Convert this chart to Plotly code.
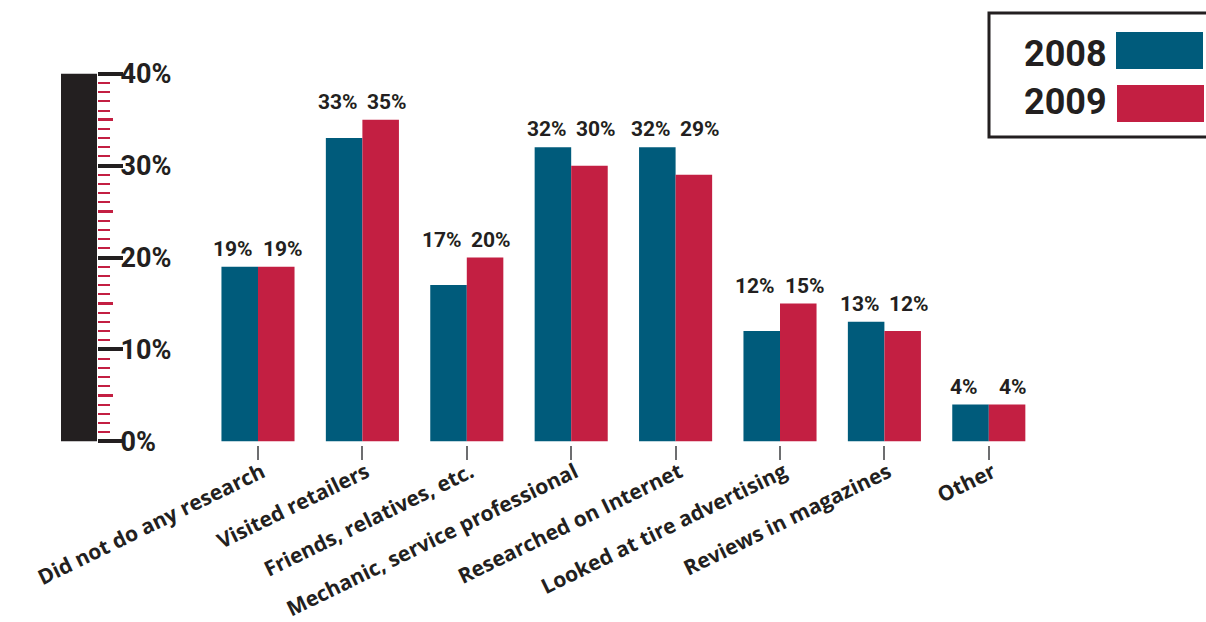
import plotly.graph_objects as go

# Survey data: where buyers researched tires before purchase
categories = [
    "Did not do any research",
    "Visited retailers",
    "Friends, relatives, etc.",
    "Mechanic, service professional",
    "Researched on Internet",
    "Looked at tire advertising",
    "Reviews in magazines",
    "Other",
]
years = ["2008", "2009"]
values_2008 = [19, 33, 17, 32, 32, 12, 13, 4]
values_2009 = [19, 35, 20, 30, 29, 15, 12, 4]
y_ticks = [0, 10, 20, 30, 40]
y_tick_labels = ["0%", "10%", "20%", "30%", "40%"]
half_ticks = [5, 15, 25, 35]

BLUE = "#005b7b"
RED = "#c31f42"
INK = "#231f20"
NUM_FONT = "Roboto, Liberation Sans, sans-serif"
LABEL_FONT = "Open Sans, Noto Sans, sans-serif"

W, H = 1206, 622
ML, MR, MT, MB = 40, 165, 60, 177
PW = W - ML - MR
PH = H - MT - MB
Y_RANGE = [-0.4, 41.5]


def px_x(px):
    return (px - ML) / PW


def px_y(py):
    return (H - MB - py) / PH


n = len(categories)
xs = list(range(n))
series = [(years[0], values_2008, BLUE, -1), (years[1], values_2009, RED, 1)]

fig = go.Figure()
for name, vals, col, _ in series:
    fig.add_trace(go.Bar(
        x=xs, y=vals, name=name,
        marker=dict(color=col, line=dict(width=0)),
        showlegend=False, hoverinfo="x+y",
    ))

# carrier trace so the overlay axis with the half-decade marks is drawn
fig.add_trace(go.Scatter(x=[None], y=[None], yaxis="y2", mode="markers",
                         showlegend=False, hoverinfo="skip"))

# value labels: both labels of a pair sit on one line above the taller bar
pair_top = [max(a, b) for a, b in zip(values_2008, values_2009)]
annotations = []
for name, vals, col, side in series:
    for i, v in enumerate(vals):
        annotations.append(dict(
            x=i + side * 0.235, y=pair_top[i], xref="x", yref="y",
            text=f"{v}%", showarrow=False,
            xanchor="center", yanchor="bottom", yshift=4,
            font=dict(family=NUM_FONT, size=21, color=INK, weight="bold"),
        ))

minor_vals = [v for v in range(1, 40) if v % 5]

fig.update_layout(
    width=W, height=H,
    margin=dict(l=ML, r=MR, t=MT, b=MB, pad=0, autoexpand=False),
    paper_bgcolor="white", plot_bgcolor="white",
    barmode="group", bargap=0.30, bargroupgap=0,
    xaxis=dict(
        range=[-2.088, 7.5], automargin=False,
        tickmode="array", tickvals=xs, ticktext=categories,
        tickangle=-26, ticklabelstandoff=-8, ticklabelshift=4,
        ticks="outside", ticklen=14, tickwidth=2, tickcolor="#6d6e70",
        tickfont=dict(family=LABEL_FONT, size=21, color=INK, weight="bold"),
        showgrid=False, zeroline=False, showline=False,
    ),
    # ruler: black decade marks with labels, red unit marks
    yaxis=dict(
        range=Y_RANGE, automargin=False,
        anchor="free", position=px_x(97),
        tickmode="array", tickvals=y_ticks, ticktext=y_tick_labels,
        ticks="inside", ticklen=25, tickwidth=4, tickcolor=INK,
        ticklabelposition="inside", ticklabeloverflow="allow",
        tickfont=dict(family=NUM_FONT, size=27, color=INK, weight="bold"),
        minor=dict(ticks="inside", tickmode="array", tickvals=minor_vals,
                   ticklen=12, tickwidth=2, tickcolor=RED),
        showgrid=False, zeroline=False, showline=False,
    ),
    # longer red marks at the half-decades
    yaxis2=dict(
        range=Y_RANGE, overlaying="y", automargin=False,
        anchor="free", position=px_x(97),
        tickmode="array", tickvals=half_ticks,
        ticks="inside", ticklen=15, tickwidth=3, tickcolor=RED,
        showticklabels=False,
        showgrid=False, zeroline=False, showline=False,
    ),
)

shapes = [
    # thick black spine of the ruler, spanning the 0-40 scale
    dict(type="rect", xref="paper", yref="y",
         x0=px_x(61), x1=px_x(97), y0=y_ticks[0], y1=y_ticks[-1],
         line=dict(width=0), fillcolor=INK, layer="above"),
    # legend frame and swatches
    dict(type="rect", xref="paper", yref="paper",
         x0=px_x(989), x1=px_x(1220), y0=px_y(137), y1=px_y(13),
         line=dict(color=INK, width=3), fillcolor="white", layer="below"),
    dict(type="rect", xref="paper", yref="paper",
         x0=px_x(1116), x1=px_x(1203), y0=px_y(69), y1=px_y(32),
         line=dict(width=0), fillcolor=BLUE),
    dict(type="rect", xref="paper", yref="paper",
         x0=px_x(1117), x1=px_x(1204), y0=px_y(122), y1=px_y(85),
         line=dict(width=0), fillcolor=RED),
]
annotations += [
    dict(xref="paper", yref="paper", x=px_x(1109), y=px_y(54), text=years[0],
         showarrow=False, xanchor="right", yanchor="middle",
         font=dict(family=NUM_FONT, size=36, color=INK, weight="bold")),
    dict(xref="paper", yref="paper", x=px_x(1109), y=px_y(102), text=years[1],
         showarrow=False, xanchor="right", yanchor="middle",
         font=dict(family=NUM_FONT, size=36, color=INK, weight="bold")),
]
fig.update_layout(shapes=shapes, annotations=annotations)

fig.write_html("out.html")
